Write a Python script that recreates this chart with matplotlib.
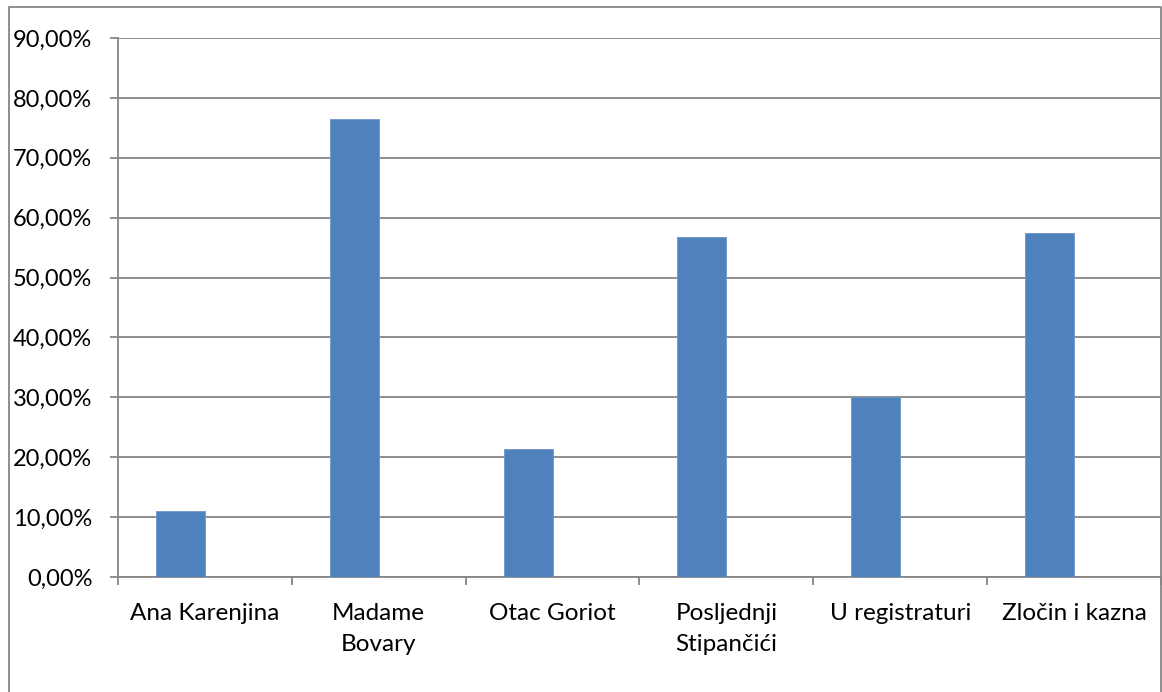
import numpy as np
import matplotlib
matplotlib.use('Agg')
import matplotlib.pyplot as plt
import matplotlib.ticker as ticker
from matplotlib.lines import Line2D

##===========================================
# Data
##===========================================
books = ['Ana Karenjina', 'Madame\nBovary', 'Otac Goriot',
         'Posljednji\nStipančići', 'U registraturi', 'Zločin i kazna']
shares = [0.111, 0.765, 0.214, 0.567, 0.300, 0.574]

grey = '#868686'
blue = '#4F81BD'

plt.rcParams['font.family'] = ['Lato', 'DejaVu Sans']

fig = plt.figure(figsize=(11.62, 6.92), dpi=100)
W, H = 1162.0, 692.0
ax = fig.add_axes([118 / W, 1 - 577 / H, (1161 - 118) / W, (577 - 38) / H])

ind = np.arange(len(books))
width = 0.282
# clustered column with an empty second series -> bars sit left of centre
ax.bar(ind - width / 2, shares, width, color=blue, edgecolor='#6E95C8',
       linewidth=0.6, zorder=3)

ax.set_xlim(-0.5, len(books) - 0.5)
ax.set_ylim(0, 0.9)
ax.yaxis.set_major_locator(ticker.MultipleLocator(0.1))
ax.yaxis.set_major_formatter(ticker.FuncFormatter(
    lambda v, p: ('%.2f%%' % (v * 100)).replace('.', ',')))
ax.grid(axis='y', color=grey, linewidth=1.3, zorder=0)

ax.set_xticks(ind)
ax.set_xticklabels(books, linespacing=1.6)
ax.set_xticks(np.arange(len(books) + 1) - 0.5, minor=True)
ax.tick_params(axis='x', which='major', length=0, pad=18.5, labelsize=17.5)
ax.tick_params(axis='x', which='minor', length=5.5, width=1.3, color=grey)
ax.tick_params(axis='y', length=6, width=1.3, color=grey, pad=12.5,
               labelsize=17)

for s in ['top', 'right']:
    ax.spines[s].set_visible(False)
for s in ['left', 'bottom']:
    ax.spines[s].set_color(grey)
    ax.spines[s].set_linewidth(1.3)

# outer chart border
fig.add_artist(Line2D([9 / W, 9 / W, 1161 / W, 1161 / W],
                      [0, 1 - 7 / H, 1 - 7 / H, 0],
                      color=grey, linewidth=1.3))

plt.savefig('out.png', dpi=100)
